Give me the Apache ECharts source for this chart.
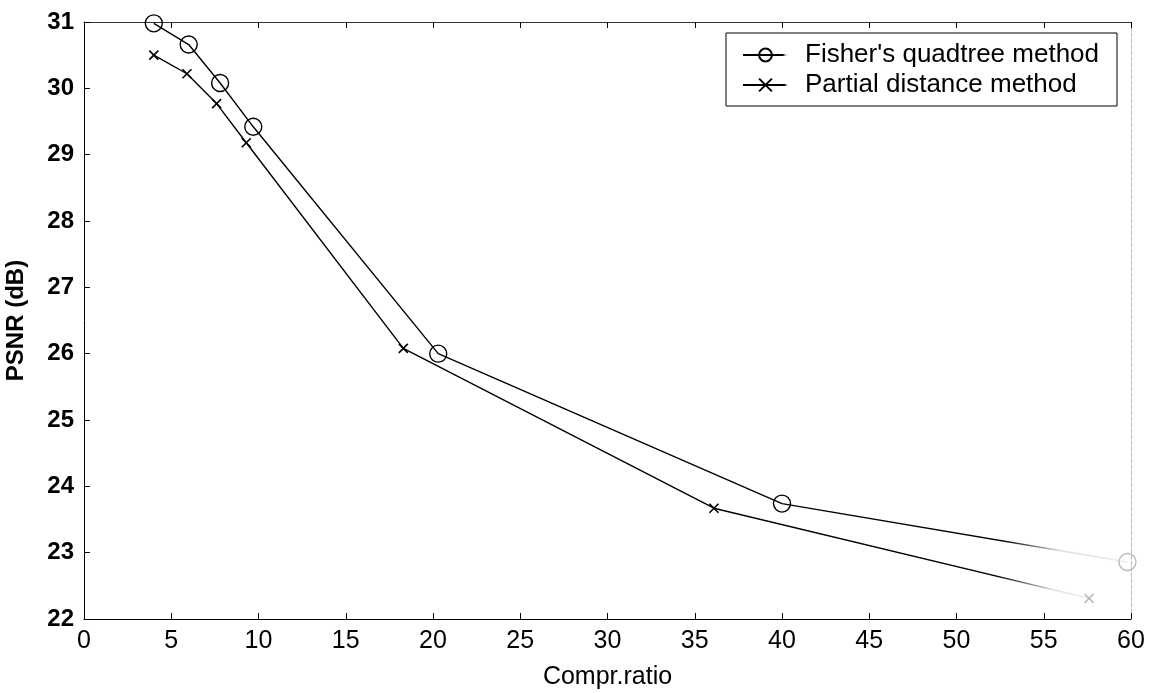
<!DOCTYPE html>
<html>
<head>
<meta charset="utf-8">
<title>PSNR vs compression ratio</title>
<script src="https://cdn.jsdelivr.net/npm/echarts@6/dist/echarts.min.js"></script>
<style>
  html, body { margin: 0; padding: 0; background: #fff; }
  #display { width: 1154px; height: 693px; }
</style>
</head>
<body>
<div id="display"></div>
<script>
// 数据
var fisherRatio = [4.0, 6.0, 7.8, 9.7, 20.3, 40.0, 59.8];
var fisherPsnr = [30.98, 30.66, 30.08, 29.42, 26.0, 23.74, 22.86];
var partialRatio = [4.0, 5.9, 7.6, 9.3, 18.3, 36.1, 57.6];
var partialPsnr = [30.5, 30.22, 29.77, 29.18, 26.08, 23.67, 22.31];
var seriesNames = ["Fisher's quadtree method", 'Partial distance method'];

var font = '"Liberation Sans", Arial, sans-serif';

function pairs(xs, ys) {
    return xs.map(function (x, i) {
        var p = { value: [x, ys[i]] };
        // the scan fades out at the far right
        if (i === xs.length - 1) {
            p.itemStyle = { borderColor: '#bbb' };
        }
        return p;
    });
}

function fade(stop) {
    return new echarts.graphic.LinearGradient(0, 0, 1, 0, [
        { offset: 0, color: '#000' },
        { offset: stop, color: '#000' },
        { offset: Math.min(stop + 0.06, 1), color: '#ddd' },
        { offset: 1, color: '#eee' }
    ]);
}

var myDisplay = echarts.init(document.getElementById('display'));

var axisLine = { show: true, onZero: false, lineStyle: { color: '#000', width: 1 } };
var axisTick = { show: true, inside: true, length: 6, lineStyle: { color: '#000' } };

myDisplay.setOption({
    animation: false,
    backgroundColor: '#fff',
    textStyle: { fontFamily: font },
    grid: { left: 84, right: 23, top: 22, bottom: 74, containLabel: false, outerBoundsMode: 'none' },
    legend: {
        left: 726,
        top: 33,
        orient: 'vertical',
        align: 'left',
        backgroundColor: '#fff',
        borderColor: '#000',
        borderWidth: 1,
        borderRadius: 0,
        padding: [9, 18, 8, 16],
        itemWidth: 45,
        itemHeight: 16,
        itemGap: 4,
        textStyle: { fontSize: 26, color: '#000', fontFamily: font, padding: [0, 0, 0, 12] },
        data: seriesNames
    },
    xAxis: [
        {
            type: 'value',
            min: 0,
            max: 60,
            interval: 5,
            position: 'bottom',
            name: 'Compr.ratio',
            nameLocation: 'middle',
            nameGap: 46,
            nameTextStyle: { fontSize: 25, color: '#000', fontFamily: font },
            axisLine: axisLine,
            axisTick: axisTick,
            axisLabel: { fontSize: 25, color: '#000', margin: 10, fontFamily: font },
            splitLine: { show: false }
        },
        {
            type: 'value',
            min: 0,
            max: 60,
            interval: 5,
            position: 'top',
            axisLine: { show: true, onZero: false, lineStyle: { color: '#333', width: 1 } },
            axisTick: axisTick,
            axisLabel: { show: false },
            splitLine: { show: false }
        }
    ],
    yAxis: [
        {
            type: 'value',
            min: 22,
            max: 31,
            interval: 1,
            position: 'left',
            name: 'PSNR (dB)',
            nameLocation: 'middle',
            nameGap: 56,
            nameTextStyle: { fontSize: 24, fontWeight: 'bold', color: '#000', fontFamily: font },
            axisLine: axisLine,
            axisTick: axisTick,
            axisLabel: { fontSize: 24, fontWeight: 'bold', color: '#000', margin: 10, fontFamily: font },
            splitLine: { show: false }
        },
        {
            type: 'value',
            min: 22,
            max: 31,
            interval: 1,
            position: 'right',
            axisLine: { show: true, onZero: false, lineStyle: { color: '#bbb', type: 'dashed', width: 1 } },
            axisTick: { show: false },
            axisLabel: { show: false },
            splitLine: { show: false }
        }
    ],
    series: [
        {
            name: seriesNames[0],
            type: 'line',
            data: pairs(fisherRatio, fisherPsnr),
            symbol: 'circle',
            symbolSize: 17,
            lineStyle: { color: fade(0.87), width: 1.4 },
            itemStyle: { color: 'rgba(0,0,0,0)', borderColor: '#000', borderWidth: 1.4 },
            z: 3
        },
        {
            name: seriesNames[1],
            type: 'line',
            data: pairs(partialRatio, partialPsnr),
            symbol: 'path://M0,0L10,10M10,0L0,10',
            symbolSize: 9,
            lineStyle: { color: fade(0.9), width: 1.4 },
            itemStyle: { color: 'rgba(0,0,0,0)', borderColor: '#000', borderWidth: 1.6 },
            z: 3
        }
    ]
});

//charts suits the screen
window.onresize = function () {
    myDisplay.resize();
};
</script>
</body>
</html>
